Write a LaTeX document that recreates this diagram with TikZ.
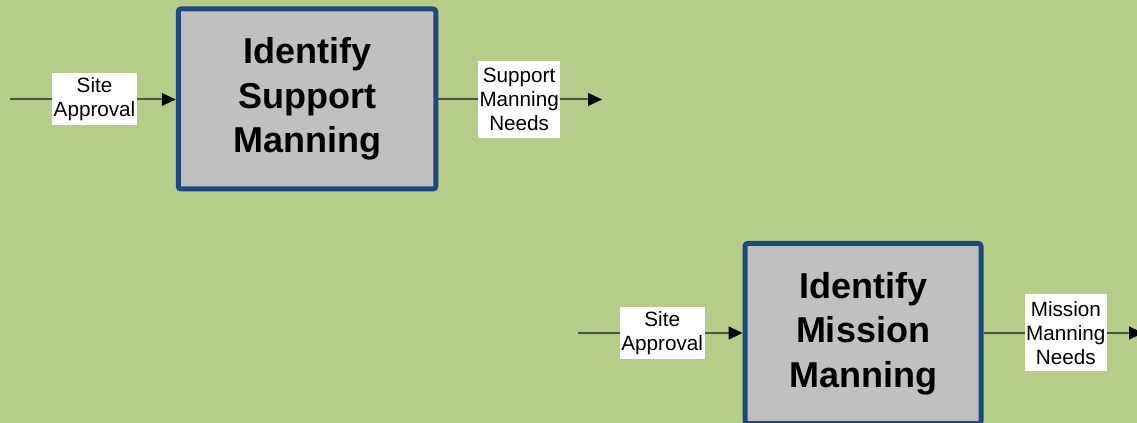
\documentclass[tikz,border=0pt]{standalone}
\usepackage{fontspec}
\setmainfont{Liberation Sans}
\usetikzlibrary{arrows.meta}
\definecolor{bggreen}{RGB}{182,204,137}
\definecolor{boxblue}{RGB}{31,73,125}
\definecolor{boxgray}{RGB}{192,192,192}
\definecolor{linecol}{RGB}{75,85,60}
\begin{document}
\begin{tikzpicture}[x=0.75pt,y=-0.75pt,
  procbox/.style={draw=boxblue,line width=3.75pt,fill=boxgray,rounded corners=2pt,
    align=center,font=\fontsize{27}{33.4}\selectfont\bfseries,inner sep=0pt},
  flowlabel/.style={fill=white,inner sep=0pt,align=center,
    font=\fontsize{15.5}{18.2}\selectfont},
  flow/.style={draw=linecol,line width=1.5pt,-{Triangle[length=10.5pt,width=9.5pt,fill=black,color=black]}}]
\useasboundingbox (0,0) rectangle (1137,423);
\clip (0,0) rectangle (1137,423);
\fill[bggreen] (0,0) rectangle (1137,423);
% boxes
\node[procbox,minimum width=257.5pt*0.75,minimum height=180pt*0.75] (b1) at (307,99) {Identify\\Support\\Manning};
\node[procbox,minimum width=236pt*0.75,minimum height=180pt*0.75] (b2) at (863,333.5) {Identify\\Mission\\Manning};
% free ends
\coordinate (s1) at (10,99.5);
\coordinate (e1) at (602,99.5);
\coordinate (s2) at (578,333);
\coordinate (e2) at (1143,333);
% connectors
\draw[flow] (s1) -- (b1.west |- s1) node[flowlabel,pos=0.51,minimum width=85*0.75pt,minimum height=52*0.75pt] (l1) {Site\\Approval};
\draw[flow] (b1.east |- e1) -- (e1) node[flowlabel,pos=0.494,minimum width=82*0.75pt,minimum height=77*0.75pt] (l2) {Support\\Manning\\Needs};
\draw[flow] (s2) -- (b2.west |- s2) node[flowlabel,pos=0.512,minimum width=85*0.75pt,minimum height=52*0.75pt] (l3) {Site\\Approval};
\draw[flow] (b2.east |- e2) -- (e2) node[flowlabel,pos=0.516,minimum width=82*0.75pt,minimum height=77*0.75pt] (l4) {Mission\\Manning\\Needs};
\end{tikzpicture}
\end{document}
